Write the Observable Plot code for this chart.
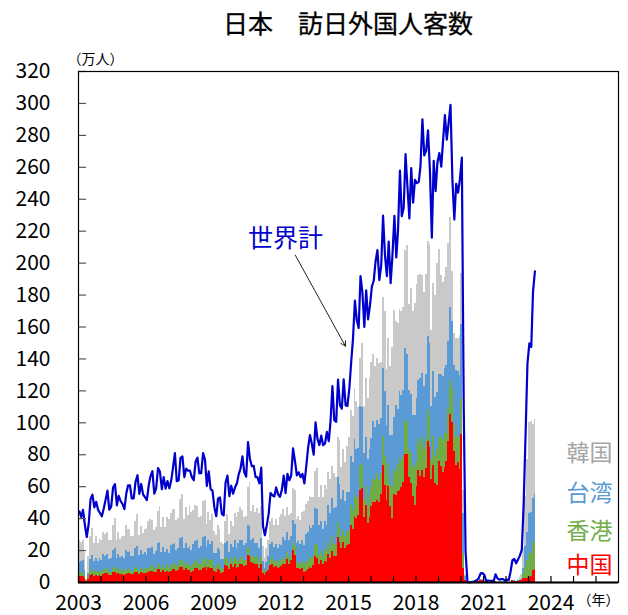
<!DOCTYPE html>
<html>
<head>
<meta charset="utf-8">
<script src="https://cdn.jsdelivr.net/npm/d3@7"></script>
<script src="https://cdn.jsdelivr.net/npm/@observablehq/plot@0.6"></script>
<style>
  html, body { margin: 0; padding: 0; background: #fff; }
  body { width: 628px; height: 615px; overflow: hidden; font-family: "Noto Sans CJK JP", "Noto Sans", sans-serif; }
  #title { height: 40px; line-height: 44px; font-size: 25px; text-align: center; padding-left: 78px; padding-right: 10px; color: #000; box-sizing: border-box; -webkit-text-stroke: 0.3px #000; }
  #chart svg { display: block; }
</style>
</head>
<body>
<div id="title">日本　訪日外国人客数</div>
<div id="chart"></div>
<script>
// Monthly visitors (万人), Jan 2003 .. Apr 2023
const firstYear = 2003;

const total = [
  44.5, 41.0, 45.5, 36.0, 28.5, 36.5, 52.0, 55.0, 47.0, 50.5, 45.5, 43.5,
  41.5, 46.4, 51.6, 57.5, 45.6, 47.5, 59.4, 61.6, 48.3, 54.3, 50.9, 49.3,
  45.9, 55.7, 60.8, 60.9, 52.6, 52.7, 63.0, 67.2, 55.5, 61.7, 55.1, 53.5,
  51.6, 61.2, 66.6, 69.7, 55.7, 58.9, 71.7, 69.3, 58.4, 66.0, 58.8, 63.5,
  59.0, 64.0, 72.0, 81.0, 63.4, 64.0, 78.1, 79.0, 65.9, 71.3, 70.0, 70.0,
  66.0, 64.0, 75.6, 78.2, 68.4, 68.5, 81.1, 77.0, 60.5, 69.6, 58.5, 57.5,
  47.0, 41.5, 52.5, 53.3, 43.0, 42.0, 62.5, 67.0, 54.0, 60.6, 55.6, 59.5,
  62.0, 67.9, 71.3, 79.0, 69.0, 66.3, 87.9, 77.4, 72.8, 73.1, 66.0, 66.0,
  62.0, 72.0, 35.2, 29.6, 35.8, 43.0, 56.0, 54.6, 53.9, 59.5, 55.2, 53.6,
  58.0, 67.0, 56.0, 68.0, 64.0, 67.0, 84.0, 76.0, 67.0, 69.0, 66.0, 68.0,
  62.0, 73.0, 84.0, 92.3, 87.0, 80.0, 100.3, 90.0, 86.0, 92.0, 86.0, 87.0,
  94.3, 88.5, 100.6, 123.0, 101.6, 100.6, 127.0, 111.0, 108.9, 127.2, 110.9, 110.6,
  121.8, 138.7, 152.6, 176.5, 164.4, 159.4, 191.8, 181.7, 160.0, 182.9, 164.8, 173.2,
  185.2, 189.1, 201.0, 208.2, 189.4, 198.5, 229.7, 204.9, 191.8, 213.5, 187.5, 205.3,
  229.6, 203.6, 220.6, 257.9, 229.4, 234.6, 268.2, 247.8, 228.0, 259.5, 237.8, 252.1,
  250.1, 250.9, 261.1, 290.1, 267.5, 270.5, 283.2, 257.8, 215.9, 264.1, 245.1, 263.2,
  268.9, 260.4, 276.1, 292.7, 277.3, 288.0, 299.1, 252.0, 227.3, 249.7, 244.1, 252.6,
  266.1, 108.5, 19.4, 0.29, 0.17, 0.26, 0.38, 0.87, 1.37, 2.74, 5.67, 5.87,
  4.65, 0.74, 1.23, 1.09, 1.00, 0.93, 5.11, 2.59, 1.77, 2.21, 2.07, 1.21,
  1.78, 1.67, 6.61, 13.95, 14.70, 12.04, 14.45, 16.99, 20.66, 49.86, 93.46, 137.01,
  149.7, 147.5, 181.8, 194.9
];

const china = [
  3.5, 3.8, 4.0, 2.5, 0.8, 2.0, 4.5, 5.0, 4.0, 4.5, 4.0, 4.5,
  4.0, 5.0, 5.5, 5.5, 4.5, 4.5, 6.0, 6.5, 5.0, 5.5, 5.0, 5.0,
  4.5, 5.0, 5.5, 5.5, 5.0, 5.0, 6.0, 6.5, 5.0, 6.0, 5.5, 5.5,
  5.5, 6.0, 7.0, 7.0, 6.0, 6.5, 8.0, 8.0, 6.5, 7.5, 6.5, 7.0,
  6.0, 7.0, 8.0, 8.0, 7.0, 7.5, 9.5, 9.5, 7.5, 9.0, 7.5, 7.5,
  6.5, 7.0, 8.5, 9.0, 7.5, 7.5, 9.0, 9.5, 7.5, 9.5, 9.0, 9.0,
  7.0, 6.0, 8.0, 7.5, 5.5, 6.0, 10.5, 10.0, 8.0, 11.0, 9.5, 11.5,
  9.0, 9.5, 11.0, 11.0, 10.0, 10.5, 17.0, 16.0, 12.5, 12.0, 11.5, 11.0,
  9.0, 11.5, 5.5, 4.5, 6.0, 7.5, 10.5, 11.5, 9.5, 10.0, 8.5, 9.5,
  10.0, 11.5, 11.0, 14.5, 11.5, 13.5, 20.0, 17.0, 9.0, 8.5, 8.0, 8.5,
  6.5, 7.0, 8.0, 9.5, 9.0, 10.5, 16.0, 15.0, 11.5, 13.5, 11.0, 13.0,
  12.5, 17.5, 15.0, 19.5, 16.0, 16.5, 28.0, 25.0, 21.5, 25.0, 21.5, 23.0,
  23.5, 35.5, 33.5, 41.5, 40.0, 42.0, 57.5, 59.0, 40.5, 48.0, 37.0, 40.5,
  47.5, 50.0, 50.0, 51.5, 50.0, 55.0, 73.0, 61.0, 51.5, 60.0, 47.5, 40.0,
  55.0, 54.5, 57.0, 57.5, 59.5, 62.5, 80.0, 80.0, 66.0, 62.0, 54.0, 48.0,
  60.0, 70.0, 66.5, 70.0, 66.0, 71.5, 88.0, 84.5, 64.5, 73.5, 62.0, 61.0,
  75.5, 72.5, 69.0, 72.0, 75.5, 88.0, 105.0, 100.0, 82.0, 73.0, 75.0, 71.0,
  92.5, 8.9, 1.1, 0.02, 0.01, 0.03, 0.02, 0.08, 0.37, 0.72, 1.47, 1.37,
  0.6, 0.1, 0.15, 0.2, 0.17, 0.1, 0.4, 0.2, 0.2, 0.3, 0.2, 0.2,
  0.1, 0.1, 0.2, 1.2, 0.8, 0.5, 0.9, 1.2, 1.5, 2.2, 2.7, 2.8,
  3.1, 3.6, 7.5, 8.0
];

const hongkong = [
  2.0, 2.0, 2.5, 1.5, 0.2, 1.0, 2.5, 3.0, 2.3, 2.5, 2.4, 3.2,
  2.0, 2.5, 2.5, 3.0, 2.0, 2.0, 3.0, 3.5, 2.0, 2.5, 2.3, 3.5,
  2.0, 2.8, 2.5, 3.0, 2.0, 2.0, 3.0, 3.2, 2.0, 2.5, 2.3, 3.5,
  2.2, 3.0, 3.0, 3.5, 2.3, 2.5, 3.5, 3.5, 2.5, 3.0, 2.5, 4.0,
  2.8, 3.5, 3.8, 4.0, 3.0, 3.0, 4.3, 4.5, 3.0, 3.5, 3.2, 4.8,
  3.5, 4.5, 4.5, 5.0, 3.5, 4.0, 5.5, 6.0, 4.0, 4.5, 4.5, 5.5,
  3.0, 3.5, 3.8, 4.0, 2.5, 2.5, 4.5, 5.0, 3.5, 4.0, 3.8, 5.0,
  3.5, 4.0, 4.0, 4.5, 3.5, 3.5, 5.0, 5.5, 4.0, 4.5, 4.0, 5.0,
  3.5, 4.0, 2.0, 1.0, 1.5, 2.0, 3.5, 4.0, 3.5, 3.5, 3.5, 4.5,
  3.5, 4.0, 3.5, 4.5, 3.5, 3.5, 5.0, 5.5, 3.5, 4.0, 3.5, 4.5,
  4.5, 5.5, 6.0, 7.0, 6.0, 5.5, 8.0, 8.0, 5.5, 6.0, 5.5, 7.5,
  6.0, 7.5, 7.0, 9.0, 7.5, 7.0, 9.5, 9.0, 7.0, 7.5, 7.0, 9.0,
  9.0, 13.0, 11.5, 14.5, 13.0, 11.5, 16.0, 15.0, 11.0, 12.0, 11.5, 14.5,
  12.5, 15.0, 14.0, 17.0, 14.0, 13.0, 18.5, 18.0, 14.0, 14.5, 13.5, 20.0,
  15.5, 14.5, 17.0, 21.0, 17.0, 17.0, 21.5, 20.5, 17.5, 18.5, 18.0, 25.0,
  16.0, 19.5, 20.0, 20.5, 17.0, 17.5, 20.5, 19.5, 12.5, 18.0, 17.0, 22.5,
  15.5, 19.0, 20.0, 21.5, 18.0, 20.5, 21.5, 21.5, 17.0, 18.0, 16.5, 20.0,
  22.9, 9.3, 0.3, 0.01, 0.0, 0.0, 0.01, 0.01, 0.01, 0.01, 0.03, 0.03,
  0.01, 0.0, 0.0, 0.0, 0.0, 0.0, 0.01, 0.0, 0.0, 0.0, 0.0, 0.0,
  0.0, 0.0, 0.01, 0.02, 0.03, 0.02, 0.03, 0.03, 0.05, 2.6, 6.8, 10.7,
  14.4, 15.0, 17.1, 18.3
];

const taiwan = [
  7.0, 7.5, 7.0, 3.5, 0.4, 2.5, 7.5, 9.0, 7.0, 8.0, 7.0, 7.5,
  8.0, 10.0, 8.5, 9.0, 8.0, 8.5, 11.0, 11.0, 8.0, 9.5, 8.5, 8.0,
  8.5, 12.5, 10.5, 11.0, 9.0, 9.5, 12.5, 13.0, 10.0, 11.5, 9.5, 9.5,
  9.0, 12.0, 11.5, 11.5, 9.5, 10.5, 13.0, 13.5, 10.0, 11.5, 9.5, 9.5,
  9.5, 12.5, 12.0, 12.5, 10.0, 11.0, 14.0, 14.0, 10.5, 12.0, 10.5, 10.5,
  10.0, 12.5, 12.5, 12.5, 10.5, 11.0, 13.5, 13.0, 10.5, 12.0, 10.0, 11.0,
  8.0, 8.5, 9.5, 8.5, 6.5, 6.0, 9.5, 10.5, 7.5, 9.0, 8.5, 10.0,
  8.5, 11.0, 11.5, 11.0, 9.5, 10.5, 13.5, 13.5, 10.0, 11.0, 9.0, 8.5,
  9.0, 12.0, 5.5, 3.5, 5.0, 6.5, 9.5, 9.5, 9.0, 10.5, 9.0, 10.0,
  9.5, 12.5, 11.5, 12.5, 11.5, 11.5, 14.0, 14.0, 12.0, 13.0, 12.0, 13.0,
  12.0, 17.5, 17.0, 19.0, 19.0, 19.5, 22.5, 22.5, 18.5, 19.0, 17.0, 17.5,
  17.5, 23.0, 21.0, 24.0, 23.0, 23.5, 28.0, 27.5, 23.5, 25.0, 22.5, 24.5,
  24.0, 30.5, 30.0, 33.5, 30.5, 30.5, 36.5, 35.5, 29.5, 31.0, 28.5, 28.5,
  30.0, 36.0, 33.0, 33.0, 35.0, 34.5, 42.5, 40.5, 33.0, 36.5, 31.0, 32.0,
  33.0, 42.0, 34.5, 41.0, 40.5, 40.5, 45.0, 42.0, 37.0, 37.5, 32.5, 31.5,
  39.0, 37.0, 41.5, 40.5, 40.0, 41.5, 45.5, 45.5, 33.5, 40.5, 37.0, 35.5,
  39.5, 39.0, 40.0, 40.5, 42.5, 42.5, 46.0, 42.0, 37.0, 41.5, 40.5, 38.5,
  46.1, 24.7, 2.1, 0.03, 0.01, 0.01, 0.02, 0.04, 0.05, 0.09, 0.17, 0.12,
  0.04, 0.01, 0.01, 0.01, 0.01, 0.01, 0.04, 0.02, 0.01, 0.02, 0.01, 0.01,
  0.01, 0.01, 0.02, 0.1, 0.2, 0.1, 0.1, 0.2, 0.4, 4.2, 13.1, 18.1,
  25.9, 25.5, 27.9, 29.0
];

const korea = [
  14.0, 12.0, 12.5, 11.0, 0.3, 10.5, 14.5, 17.0, 11.0, 13.5, 11.0, 12.5,
  12.0, 13.5, 13.5, 14.0, 11.5, 11.5, 15.5, 19.0, 11.5, 13.5, 11.0, 12.5,
  14.0, 15.5, 15.0, 13.5, 12.5, 12.0, 16.5, 20.0, 12.5, 15.0, 13.5, 15.0,
  17.0, 17.5, 18.0, 17.0, 15.0, 15.0, 20.0, 22.5, 15.5, 18.5, 16.0, 20.0,
  21.0, 20.5, 22.0, 21.5, 19.0, 18.5, 24.0, 27.0, 18.5, 22.5, 21.0, 24.5,
  24.0, 21.0, 23.0, 21.0, 19.5, 19.0, 22.5, 23.0, 14.5, 18.0, 15.5, 17.0,
  14.0, 11.5, 14.5, 13.0, 10.5, 9.5, 14.0, 17.0, 11.0, 14.0, 13.0, 17.0,
  19.5, 19.5, 20.5, 18.5, 17.5, 17.0, 24.0, 27.5, 18.0, 20.5, 19.5, 22.0,
  22.0, 20.0, 9.5, 6.0, 8.5, 10.0, 14.5, 15.0, 13.5, 15.5, 14.5, 17.0,
  19.5, 18.0, 15.5, 15.5, 15.5, 14.5, 20.0, 21.0, 15.0, 16.0, 15.5, 18.0,
  21.5, 19.0, 20.0, 18.5, 19.0, 17.5, 23.0, 26.0, 17.5, 22.0, 19.5, 22.5,
  22.0, 21.0, 21.5, 20.0, 21.5, 19.0, 25.0, 27.5, 20.0, 26.0, 24.0, 28.5,
  34.0, 28.5, 29.0, 32.0, 30.0, 25.5, 30.5, 40.0, 29.5, 36.5, 38.5, 44.0,
  47.5, 41.5, 38.0, 39.0, 38.0, 35.5, 44.5, 50.0, 35.0, 42.0, 43.0, 55.0,
  67.0, 52.5, 53.5, 51.5, 53.0, 52.0, 61.5, 68.5, 53.5, 66.0, 65.0, 70.0,
  71.5, 66.0, 65.0, 61.5, 58.5, 62.5, 59.5, 62.0, 47.5, 55.5, 64.0, 80.5,
  78.0, 62.0, 59.0, 57.0, 61.0, 61.5, 56.0, 31.0, 20.0, 20.0, 20.5, 25.0,
  31.7, 14.5, 1.7, 0.07, 0.01, 0.02, 0.03, 0.04, 0.09, 0.28, 0.39, 0.35,
  0.1, 0.01, 0.02, 0.02, 0.02, 0.03, 0.06, 0.03, 0.02, 0.02, 0.02, 0.02,
  0.02, 0.01, 0.03, 0.2, 0.4, 0.3, 0.6, 1.6, 3.1, 12.4, 31.5, 45.6,
  56.5, 56.8, 46.6, 46.7
];

const seriesNames = ["中国", "香港", "台湾", "韓国"];            // bottom to top
const seriesColors = ["#ff0000", "#70ad47", "#5b9bd5", "#c9c9c9"];
const legendNames = ["韓国", "台湾", "香港", "中国"];
const legendColors = ["#a6a6a6", "#5b9bd5", "#70ad47", "#ff0000"];
const yTicks = [0, 20, 40, 60, 80, 100, 120, 140, 160, 180, 200, 220, 240, 260, 280, 300, 320];
const xLabelYears = [2003, 2006, 2009, 2012, 2015, 2018, 2021, 2024];
const xMinorYears = [2003, 2004, 2005, 2006, 2007, 2008, 2009, 2010, 2011, 2012, 2013, 2014,
                     2015, 2016, 2017, 2018, 2019, 2020, 2021, 2022, 2023, 2024, 2025, 2026];
const xDomainYears = [2003, 2027];
const annotation = { label: "世界計", labelDate: "2012-03-15", labelValue: 215,
                     fromDate: "2012-08-20", fromValue: 205, toDate: "2014-11-12", toValue: 148 };

// ---- build tables ----
const seriesValues = { "中国": china, "香港": hongkong, "台湾": taiwan, "韓国": korea };
const monthStart = i => new Date(Date.UTC(firstYear, i, 1));
const monthMid = i => new Date(Date.UTC(firstYear, i, 15));
const stackRows = seriesNames.flatMap(name =>
  seriesValues[name].map((v, i) => ({ date: monthStart(i), value: v, country: name })));
const lineRows = total.map((v, i) => ({ date: monthMid(i), value: v }));
const yearDate = y => new Date(Date.UTC(y, 0, 1));
const parseDay = s => new Date(s + "T00:00:00Z");

const FONT = '"Noto Sans CJK JP", "Noto Sans", sans-serif';
const W = 628, H = 575, ML = 78, MR = 10, MT = 31, MB = 33;
const plotW = W - ML - MR, plotH = H - MT - MB;

const chart = Plot.plot({
  width: W, height: H,
  marginTop: MT, marginBottom: MB, marginLeft: ML, marginRight: MR,
  style: { fontFamily: FONT, fontSize: "21px", color: "#000", background: "#fff" },
  x: { type: "utc", domain: xDomainYears.map(yearDate), label: null },
  y: { domain: [0, 320], label: null },
  color: { domain: seriesNames, range: seriesColors },
  marks: [
    Plot.rectY(stackRows, { x: "date", interval: "month", y: "value", fill: "country", order: seriesNames,
      inset: 0, insetLeft: 0, insetRight: 0, shapeRendering: "crispEdges" }),
    Plot.line(lineRows, { x: "date", y: "value", stroke: "#0000cc", strokeWidth: 2.2, strokeLinejoin: "round" }),
    Plot.tickY(yTicks, { y: d => d, stroke: "#555", strokeWidth: 1.2, insetRight: plotW - 8 }),
    Plot.tickX(xMinorYears.map(yearDate), { x: d => d, stroke: "#000", strokeWidth: 1.2, insetTop: plotH - 6 }),
    Plot.frame({ stroke: "#000", strokeWidth: 1.2 }),
    Plot.ruleY([0], { stroke: "#000", strokeWidth: 2 }),
    Plot.axisY(yTicks, { tickSize: 0, tickPadding: 28, fontSize: 21, label: null }),
    Plot.axisX(xLabelYears.map(yearDate), { tickSize: 0, tickPadding: 13, fontSize: 21, tickFormat: "%Y", label: null }),
    Plot.text(["（万人）"], { frameAnchor: "top-left", text: d => d, textAnchor: "middle", lineAnchor: "middle",
      dx: 17, dy: -12, fontSize: 14 }),
    Plot.text(["（年）"], { frameAnchor: "bottom-right", text: d => d, textAnchor: "middle", lineAnchor: "middle",
      dx: -20, dy: 18, fontSize: 14 }),
    ...legendNames.map((name, i) =>
      Plot.text([name], { frameAnchor: "bottom-right", text: d => d, textAnchor: "end", lineAnchor: "middle",
        dx: -6, dy: [-129, -89, -51, -17][i], fontSize: 23, fill: legendColors[i] })),
    Plot.arrow([annotation], { x1: d => parseDay(d.fromDate), y1: "fromValue", x2: d => parseDay(d.toDate), y2: "toValue",
      stroke: "#222", strokeWidth: 1, headLength: 8 }),
    Plot.text([annotation], { x: d => parseDay(d.labelDate), y: "labelValue", text: "label", fontSize: 25, fill: "#0000cc" })
  ]
});
document.getElementById("chart").appendChild(chart);
</script>
</body>
</html>
